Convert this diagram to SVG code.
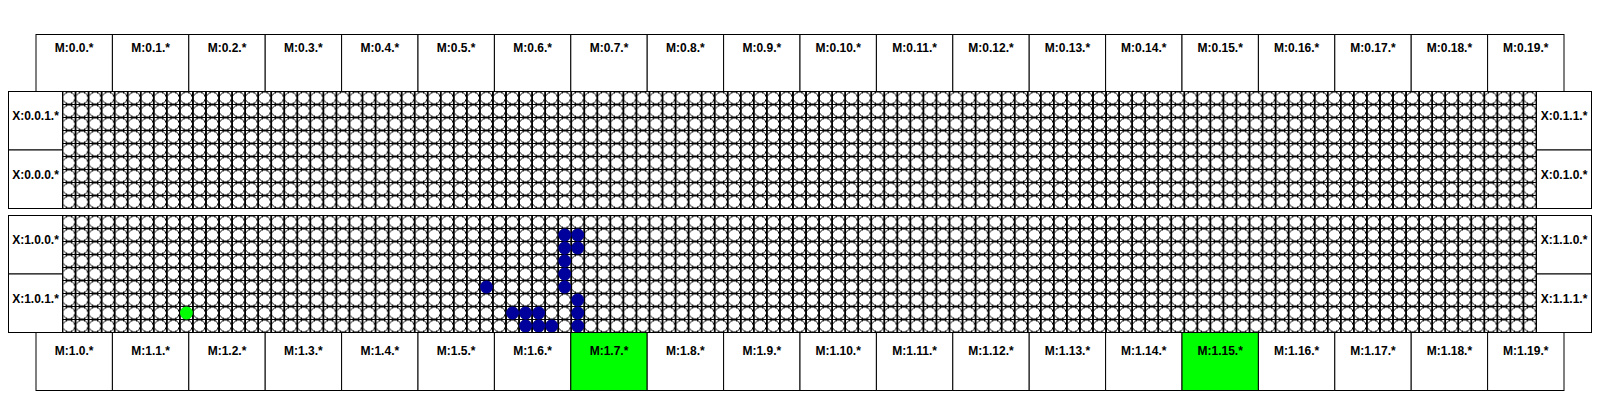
<svg xmlns="http://www.w3.org/2000/svg" width="1600" height="400" viewBox="0 0 1600 400">
<style>
.box{fill:#fff;stroke:#000;stroke-width:1}
.on{fill:#00ff00;stroke:#000;stroke-width:1}
.lbl{font-family:"Liberation Sans",Arial,sans-serif;font-weight:bold;font-size:12px;fill:#000;text-anchor:middle}
.frame{fill:none;stroke:#000;stroke-width:1}
.blue{fill:#00009c}
.green{fill:#00ff00}
.gl{stroke:#000;stroke-width:1.3;fill:none;shape-rendering:crispEdges}
.gc{fill:#fff;stroke:#000;stroke-width:1;shape-rendering:crispEdges}
</style>
<defs>
<pattern id="linesA" patternUnits="userSpaceOnUse" x="55.978" y="85" width="13.04425" height="13">
<path class="gl" d="M0 6.5H13.04425M6.522 0V13"/>
</pattern>
<pattern id="circA" patternUnits="userSpaceOnUse" x="62.5" y="91.5" width="13.04425" height="13">
<circle class="gc" cx="6.522" cy="6.5" r="6.0"/>
</pattern>
<pattern id="linesB" patternUnits="userSpaceOnUse" x="55.978" y="209" width="13.04425" height="13">
<path class="gl" d="M0 6.5H13.04425M6.522 0V13"/>
</pattern>
<pattern id="circB" patternUnits="userSpaceOnUse" x="62.5" y="215.5" width="13.04425" height="13">
<circle class="gc" cx="6.522" cy="6.5" r="6.0"/>
</pattern>
</defs>
<rect width="1600" height="400" fill="#fff"/>

<g id="grid-0">
<rect x="62.5" y="91.5" width="1474" height="117" fill="#fff"/>
<rect x="62.5" y="91.5" width="1474" height="117" fill="url(#linesA)"/>
<rect x="62.5" y="91.5" width="1474" height="117" fill="url(#circA)"/>
<rect x="62.5" y="91.5" width="1474" height="117" class="frame"/>
</g>
<g id="grid-1">
<rect x="62.5" y="215.5" width="1474" height="117" fill="#fff"/>
<rect x="62.5" y="215.5" width="1474" height="117" fill="url(#linesB)"/>
<rect x="62.5" y="215.5" width="1474" height="117" fill="url(#circB)"/>
<rect x="62.5" y="215.5" width="1474" height="117" class="frame"/>
</g>

<g id="active-cells">
<circle class="green" cx="186.42" cy="313" r="6.4"/>
<circle class="blue" cx="564.70" cy="235" r="6.4"/>
<circle class="blue" cx="577.75" cy="235" r="6.4"/>
<circle class="blue" cx="564.70" cy="248" r="6.4"/>
<circle class="blue" cx="577.75" cy="248" r="6.4"/>
<circle class="blue" cx="564.70" cy="261" r="6.4"/>
<circle class="blue" cx="564.70" cy="274" r="6.4"/>
<circle class="blue" cx="564.70" cy="287" r="6.4"/>
<circle class="blue" cx="486.44" cy="287" r="6.4"/>
<circle class="blue" cx="577.75" cy="300" r="6.4"/>
<circle class="blue" cx="512.53" cy="313" r="6.4"/>
<circle class="blue" cx="525.57" cy="313" r="6.4"/>
<circle class="blue" cx="538.62" cy="313" r="6.4"/>
<circle class="blue" cx="577.75" cy="313" r="6.4"/>
<circle class="blue" cx="525.57" cy="326" r="6.4"/>
<circle class="blue" cx="538.62" cy="326" r="6.4"/>
<circle class="blue" cx="551.66" cy="326" r="6.4"/>
<circle class="blue" cx="577.75" cy="326" r="6.4"/>
</g>

<g id="x-0-0-1"><rect class="box" x="8.5" y="91.5" width="54" height="58.5"/><text class="lbl" x="35.5" y="120">X:0.0.1.*</text></g>
<g id="x-0-0-0"><rect class="box" x="8.5" y="150" width="54" height="58.5"/><text class="lbl" x="35.5" y="178.5">X:0.0.0.*</text></g>
<g id="x-1-0-0"><rect class="box" x="8.5" y="215.5" width="54" height="58.5"/><text class="lbl" x="35.5" y="244">X:1.0.0.*</text></g>
<g id="x-1-0-1"><rect class="box" x="8.5" y="274" width="54" height="58.5"/><text class="lbl" x="35.5" y="302.5">X:1.0.1.*</text></g>
<g id="x-0-1-1"><rect class="box" x="1536.5" y="91.5" width="55" height="58.5"/><text class="lbl" x="1564" y="120">X:0.1.1.*</text></g>
<g id="x-0-1-0"><rect class="box" x="1536.5" y="150" width="55" height="58.5"/><text class="lbl" x="1564" y="178.5">X:0.1.0.*</text></g>
<g id="x-1-1-0"><rect class="box" x="1536.5" y="215.5" width="55" height="58.5"/><text class="lbl" x="1564" y="244">X:1.1.0.*</text></g>
<g id="x-1-1-1"><rect class="box" x="1536.5" y="274" width="55" height="58.5"/><text class="lbl" x="1564" y="302.5">X:1.1.1.*</text></g>

<g id="m-0-0"><rect class="box" x="36" y="34.5" width="76.4" height="57"/><text class="lbl" x="74.2" y="52">M:0.0.*</text></g>
<g id="m-0-1"><rect class="box" x="112.4" y="34.5" width="76.4" height="57"/><text class="lbl" x="150.6" y="52">M:0.1.*</text></g>
<g id="m-0-2"><rect class="box" x="188.8" y="34.5" width="76.4" height="57"/><text class="lbl" x="227" y="52">M:0.2.*</text></g>
<g id="m-0-3"><rect class="box" x="265.2" y="34.5" width="76.4" height="57"/><text class="lbl" x="303.4" y="52">M:0.3.*</text></g>
<g id="m-0-4"><rect class="box" x="341.6" y="34.5" width="76.4" height="57"/><text class="lbl" x="379.8" y="52">M:0.4.*</text></g>
<g id="m-0-5"><rect class="box" x="418" y="34.5" width="76.4" height="57"/><text class="lbl" x="456.2" y="52">M:0.5.*</text></g>
<g id="m-0-6"><rect class="box" x="494.4" y="34.5" width="76.4" height="57"/><text class="lbl" x="532.6" y="52">M:0.6.*</text></g>
<g id="m-0-7"><rect class="box" x="570.8" y="34.5" width="76.4" height="57"/><text class="lbl" x="609" y="52">M:0.7.*</text></g>
<g id="m-0-8"><rect class="box" x="647.2" y="34.5" width="76.4" height="57"/><text class="lbl" x="685.4" y="52">M:0.8.*</text></g>
<g id="m-0-9"><rect class="box" x="723.6" y="34.5" width="76.4" height="57"/><text class="lbl" x="761.8" y="52">M:0.9.*</text></g>
<g id="m-0-10"><rect class="box" x="800" y="34.5" width="76.4" height="57"/><text class="lbl" x="838.2" y="52">M:0.10.*</text></g>
<g id="m-0-11"><rect class="box" x="876.4" y="34.5" width="76.4" height="57"/><text class="lbl" x="914.6" y="52">M:0.11.*</text></g>
<g id="m-0-12"><rect class="box" x="952.8" y="34.5" width="76.4" height="57"/><text class="lbl" x="991" y="52">M:0.12.*</text></g>
<g id="m-0-13"><rect class="box" x="1029.2" y="34.5" width="76.4" height="57"/><text class="lbl" x="1067.4" y="52">M:0.13.*</text></g>
<g id="m-0-14"><rect class="box" x="1105.6" y="34.5" width="76.4" height="57"/><text class="lbl" x="1143.8" y="52">M:0.14.*</text></g>
<g id="m-0-15"><rect class="box" x="1182" y="34.5" width="76.4" height="57"/><text class="lbl" x="1220.2" y="52">M:0.15.*</text></g>
<g id="m-0-16"><rect class="box" x="1258.4" y="34.5" width="76.4" height="57"/><text class="lbl" x="1296.6" y="52">M:0.16.*</text></g>
<g id="m-0-17"><rect class="box" x="1334.8" y="34.5" width="76.4" height="57"/><text class="lbl" x="1373" y="52">M:0.17.*</text></g>
<g id="m-0-18"><rect class="box" x="1411.2" y="34.5" width="76.4" height="57"/><text class="lbl" x="1449.4" y="52">M:0.18.*</text></g>
<g id="m-0-19"><rect class="box" x="1487.6" y="34.5" width="76.4" height="57"/><text class="lbl" x="1525.8" y="52">M:0.19.*</text></g>

<g id="m-1-0"><rect class="box" x="36" y="332.5" width="76.4" height="58"/><text class="lbl" x="74.2" y="355">M:1.0.*</text></g>
<g id="m-1-1"><rect class="box" x="112.4" y="332.5" width="76.4" height="58"/><text class="lbl" x="150.6" y="355">M:1.1.*</text></g>
<g id="m-1-2"><rect class="box" x="188.8" y="332.5" width="76.4" height="58"/><text class="lbl" x="227" y="355">M:1.2.*</text></g>
<g id="m-1-3"><rect class="box" x="265.2" y="332.5" width="76.4" height="58"/><text class="lbl" x="303.4" y="355">M:1.3.*</text></g>
<g id="m-1-4"><rect class="box" x="341.6" y="332.5" width="76.4" height="58"/><text class="lbl" x="379.8" y="355">M:1.4.*</text></g>
<g id="m-1-5"><rect class="box" x="418" y="332.5" width="76.4" height="58"/><text class="lbl" x="456.2" y="355">M:1.5.*</text></g>
<g id="m-1-6"><rect class="box" x="494.4" y="332.5" width="76.4" height="58"/><text class="lbl" x="532.6" y="355">M:1.6.*</text></g>
<g id="m-1-7"><rect class="on" x="570.8" y="332.5" width="76.4" height="58"/><text class="lbl" x="609" y="355">M:1.7.*</text></g>
<g id="m-1-8"><rect class="box" x="647.2" y="332.5" width="76.4" height="58"/><text class="lbl" x="685.4" y="355">M:1.8.*</text></g>
<g id="m-1-9"><rect class="box" x="723.6" y="332.5" width="76.4" height="58"/><text class="lbl" x="761.8" y="355">M:1.9.*</text></g>
<g id="m-1-10"><rect class="box" x="800" y="332.5" width="76.4" height="58"/><text class="lbl" x="838.2" y="355">M:1.10.*</text></g>
<g id="m-1-11"><rect class="box" x="876.4" y="332.5" width="76.4" height="58"/><text class="lbl" x="914.6" y="355">M:1.11.*</text></g>
<g id="m-1-12"><rect class="box" x="952.8" y="332.5" width="76.4" height="58"/><text class="lbl" x="991" y="355">M:1.12.*</text></g>
<g id="m-1-13"><rect class="box" x="1029.2" y="332.5" width="76.4" height="58"/><text class="lbl" x="1067.4" y="355">M:1.13.*</text></g>
<g id="m-1-14"><rect class="box" x="1105.6" y="332.5" width="76.4" height="58"/><text class="lbl" x="1143.8" y="355">M:1.14.*</text></g>
<g id="m-1-15"><rect class="on" x="1182" y="332.5" width="76.4" height="58"/><text class="lbl" x="1220.2" y="355">M:1.15.*</text></g>
<g id="m-1-16"><rect class="box" x="1258.4" y="332.5" width="76.4" height="58"/><text class="lbl" x="1296.6" y="355">M:1.16.*</text></g>
<g id="m-1-17"><rect class="box" x="1334.8" y="332.5" width="76.4" height="58"/><text class="lbl" x="1373" y="355">M:1.17.*</text></g>
<g id="m-1-18"><rect class="box" x="1411.2" y="332.5" width="76.4" height="58"/><text class="lbl" x="1449.4" y="355">M:1.18.*</text></g>
<g id="m-1-19"><rect class="box" x="1487.6" y="332.5" width="76.4" height="58"/><text class="lbl" x="1525.8" y="355">M:1.19.*</text></g>

<g id="connectors"></g>
</svg>
